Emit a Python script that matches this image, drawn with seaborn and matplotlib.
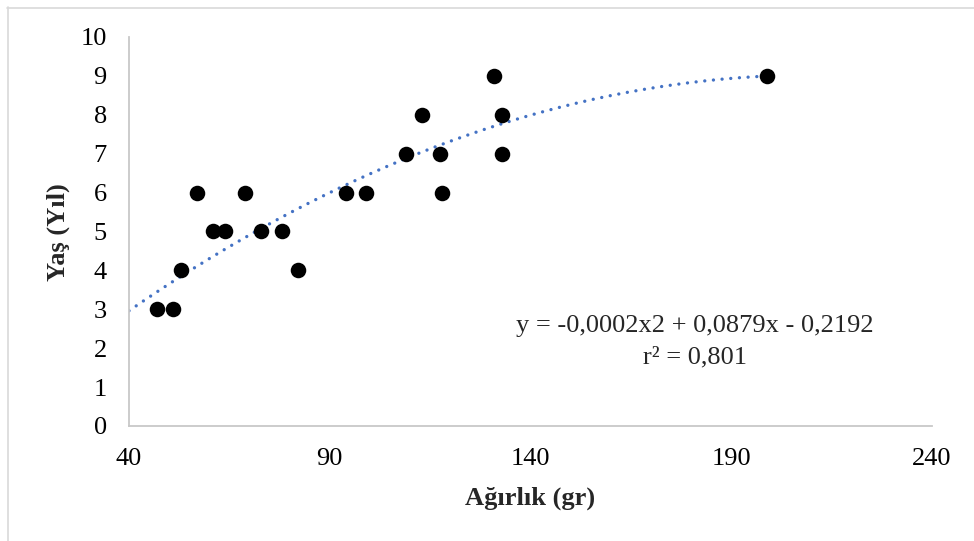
import numpy as np
import pandas as pd
import matplotlib
matplotlib.use("Agg")
import matplotlib.pyplot as plt
from matplotlib.lines import Line2D
import seaborn as sns

# Fish weight (g) and age (years)
agirlik = [47, 51, 53, 57, 61, 64, 69, 73, 78, 82, 94, 99,
           109, 113, 117.5, 118, 131, 133, 133, 199]
yas = [3, 3, 4, 6, 5, 5, 6, 5, 5, 4, 6, 6,
       7, 8, 7, 6, 9, 7, 8, 9]

# quadratic trend coefficients (a, b, c) for y = a*x^2 + b*x + c
trend = [-0.000209, 0.0879, -0.2192]

x_ticks = [40, 90, 140, 190, 240]
y_ticks = list(range(0, 11))
denklem = "y = -0,0002x2 + 0,0879x - 0,2192"
r_kare = "r² = 0,801"

df = pd.DataFrame({"Ağırlık": agirlik, "Yaş": yas})

sns.set_style("white")
plt.rcParams["font.family"] = ["Liberation Serif", "DejaVu Serif"]

W, H = 974, 541
fig = plt.figure(figsize=(W / 100, H / 100), dpi=100)
ax = fig.add_axes([129 / W, 1 - 426 / H, (932 - 129) / W, (426 - 37) / H])

xs = np.linspace(40, max(agirlik), 200)
ax.plot(xs, np.polyval(trend, xs), color="#4472C4", lw=2.4,
        linestyle=(0, (0.01, 2.6)), dash_capstyle="round", zorder=2)

sns.scatterplot(data=df, x="Ağırlık", y="Yaş", ax=ax, color="black",
                s=125, edgecolor="black", linewidth=0, zorder=3)

ax.set_xlim(40, 240)
ax.set_ylim(0, 10)
ax.set_xticks(x_ticks)
ax.set_yticks(y_ticks)
ax.tick_params(axis="both", length=0, labelsize=19, colors="black")
ax.tick_params(axis="x", pad=16)
ax.tick_params(axis="y", pad=16)

for s in ["top", "right"]:
    ax.spines[s].set_visible(False)
for s in ["left", "bottom"]:
    ax.spines[s].set_color("#C8C8C8")
    ax.spines[s].set_linewidth(1.3)

ax.set_xlabel("Ağırlık (gr)", fontsize=19, fontweight="bold")
ax.set_ylabel("Yaş (Yıl)", fontsize=19, fontweight="bold")
ax.xaxis.label.set_va("center")
ax.yaxis.label.set_va("center")
ax.xaxis.set_label_coords(0.5 + (530 - 530.5) / 803, (426 - 498) / 389)
ax.yaxis.set_label_coords((58 - 129) / 803, (426 - 232) / 389)

ax.text(695 / W, 1 - 326 / H, denklem, transform=fig.transFigure,
        ha="center", va="center", fontsize=19)
ax.text(695 / W, 1 - 357 / H, r_kare, transform=fig.transFigure,
        ha="center", va="center", fontsize=19)

# outer chart frame (top and left edges visible)
fig.add_artist(Line2D([7 / W, 1], [1 - 7.5 / H, 1 - 7.5 / H],
                      transform=fig.transFigure, color="#D9D9D9", lw=1.2))
fig.add_artist(Line2D([7.5 / W, 7.5 / W], [0, 1 - 7 / H],
                      transform=fig.transFigure, color="#D9D9D9", lw=1.2))

fig.savefig("out.png", dpi=100)
